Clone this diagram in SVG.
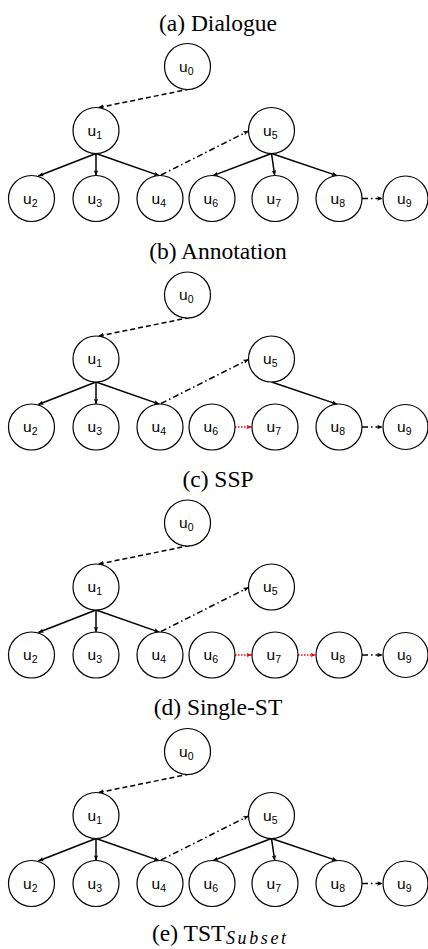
<svg xmlns="http://www.w3.org/2000/svg" width="428" height="949" viewBox="0 0 428 949">
<style>
.node circle{fill:#fff;stroke:#000;stroke-width:1.2}
.lbl{font-family:"Liberation Sans",Arial,Helvetica,sans-serif;font-size:15.5px;fill:#000}
.sub{font-size:10.5px}
.title{font-family:"Liberation Serif","Times New Roman",serif;font-size:23.5px;fill:#000;text-anchor:middle}
.e{fill:none;stroke:#000;stroke-width:1.5;marker-end:url(#ah)}
.dash{stroke-dasharray:5 3}
.dd{stroke-dasharray:6 3 1.5 3}
.red{stroke:#ff0000;stroke-dasharray:1.5 1.5;marker-end:url(#ahr)}
</style>
<defs>
<marker id="ah" viewBox="0 0 8 8" markerWidth="6" markerHeight="6" refX="7" refY="4" orient="auto" markerUnits="userSpaceOnUse">
<path d="M0,1 L7,4 L0,7 L1.5,4 z" fill="#000"/>
</marker>
<marker id="ahr" viewBox="0 0 8 8" markerWidth="6" markerHeight="6" refX="7" refY="4" orient="auto" markerUnits="userSpaceOnUse">
<path d="M0,1 L7,4 L0,7 L1.5,4 z" fill="#ff0000"/>
</marker>
</defs>
<rect width="428" height="949" fill="#fff"/>

<text class="title" x="218" y="31">(a) Dialogue</text>
<text class="title" x="218" y="259">(b) Annotation</text>
<text class="title" x="218" y="487">(c) SSP</text>
<text class="title" x="218" y="715">(d) Single-ST</text>
<text font-family="'Liberation Serif','Times New Roman',serif" font-size="23.5" x="152" y="941">(e) TST</text>
<text font-family="'Liberation Serif','Times New Roman',serif" font-style="italic" font-size="18" x="226" y="944" textLength="60" lengthAdjust="spacing">Subset</text>

<!-- Panel a -->
<g id="panel-a">
<g id="connectors-a">
<path class="e dash" d="M190,89 L98.5,107.6"/>
<path class="e" d="M96,153.5 L38.3,176"/>
<path class="e" d="M96,153.5 L96,175.5"/>
<path class="e" d="M96,153.5 L159.3,175.6"/>
<path class="e dd" d="M161,175 L248.5,131"/>
<path class="e" d="M271.5,153.5 L213,175.6"/>
<path class="e" d="M271.5,153.5 L274.7,175.5"/>
<path class="e" d="M271.5,153.5 L337,175.6"/>
<path class="e dd" d="M362,198.5 L382.5,198.5"/>
</g>
<g id="a-u0" class="node"><circle cx="187.5" cy="66.5" r="23"/><text class="lbl" x="179" y="71.5">u<tspan class="sub" dy="3">0</tspan></text></g>
<g id="a-u1" class="node"><circle cx="96" cy="130.5" r="23"/><text class="lbl" x="87.5" y="135.5">u<tspan class="sub" dy="3">1</tspan></text></g>
<g id="a-u5" class="node"><circle cx="271.5" cy="130.5" r="23"/><text class="lbl" x="263" y="135.5">u<tspan class="sub" dy="3">5</tspan></text></g>
<g id="a-u2" class="node"><circle cx="31.5" cy="198.5" r="23"/><text class="lbl" x="23" y="203.5">u<tspan class="sub" dy="3">2</tspan></text></g>
<g id="a-u3" class="node"><circle cx="96" cy="198.5" r="23"/><text class="lbl" x="87.5" y="203.5">u<tspan class="sub" dy="3">3</tspan></text></g>
<g id="a-u4" class="node"><circle cx="160" cy="198.5" r="23"/><text class="lbl" x="151.5" y="203.5">u<tspan class="sub" dy="3">4</tspan></text></g>
<g id="a-u6" class="node"><circle cx="212" cy="198.5" r="23"/><text class="lbl" x="203.5" y="203.5">u<tspan class="sub" dy="3">6</tspan></text></g>
<g id="a-u7" class="node"><circle cx="275" cy="198.5" r="23"/><text class="lbl" x="266.5" y="203.5">u<tspan class="sub" dy="3">7</tspan></text></g>
<g id="a-u8" class="node"><circle cx="339" cy="198.5" r="23"/><text class="lbl" x="330.5" y="203.5">u<tspan class="sub" dy="3">8</tspan></text></g>
<g id="a-u9" class="node"><circle cx="405.5" cy="198.5" r="22.5"/><text class="lbl" x="397" y="203.5">u<tspan class="sub" dy="3">9</tspan></text></g>
</g>

<!-- Panel b -->
<g id="panel-b" transform="translate(0,228.5)">
<g id="connectors-b">
<path class="e dash" d="M190,89 L98.5,107.6"/>
<path class="e" d="M96,153.5 L38.3,176"/>
<path class="e" d="M96,153.5 L96,175.5"/>
<path class="e" d="M96,153.5 L159.3,175.6"/>
<path class="e dd" d="M161,175 L248.5,131"/>
<path class="e" d="M271.5,153.5 L337,175.6"/>
<path class="e red" d="M235,198.5 L251.8,198.5"/>
<path class="e dd" d="M362,198.5 L382.5,198.5"/>
</g>
<g id="b-u0" class="node"><circle cx="187.5" cy="66.5" r="23"/><text class="lbl" x="179" y="71.5">u<tspan class="sub" dy="3">0</tspan></text></g>
<g id="b-u1" class="node"><circle cx="96" cy="130.5" r="23"/><text class="lbl" x="87.5" y="135.5">u<tspan class="sub" dy="3">1</tspan></text></g>
<g id="b-u5" class="node"><circle cx="271.5" cy="130.5" r="23"/><text class="lbl" x="263" y="135.5">u<tspan class="sub" dy="3">5</tspan></text></g>
<g id="b-u2" class="node"><circle cx="31.5" cy="198.5" r="23"/><text class="lbl" x="23" y="203.5">u<tspan class="sub" dy="3">2</tspan></text></g>
<g id="b-u3" class="node"><circle cx="96" cy="198.5" r="23"/><text class="lbl" x="87.5" y="203.5">u<tspan class="sub" dy="3">3</tspan></text></g>
<g id="b-u4" class="node"><circle cx="160" cy="198.5" r="23"/><text class="lbl" x="151.5" y="203.5">u<tspan class="sub" dy="3">4</tspan></text></g>
<g id="b-u6" class="node"><circle cx="212" cy="198.5" r="23"/><text class="lbl" x="203.5" y="203.5">u<tspan class="sub" dy="3">6</tspan></text></g>
<g id="b-u7" class="node"><circle cx="275" cy="198.5" r="23"/><text class="lbl" x="266.5" y="203.5">u<tspan class="sub" dy="3">7</tspan></text></g>
<g id="b-u8" class="node"><circle cx="339" cy="198.5" r="23"/><text class="lbl" x="330.5" y="203.5">u<tspan class="sub" dy="3">8</tspan></text></g>
<g id="b-u9" class="node"><circle cx="405.5" cy="198.5" r="22.5"/><text class="lbl" x="397" y="203.5">u<tspan class="sub" dy="3">9</tspan></text></g>
</g>

<!-- Panel c -->
<g id="panel-c" transform="translate(0,456.5)">
<g id="connectors-c">
<path class="e dash" d="M190,89 L98.5,107.6"/>
<path class="e" d="M96,153.5 L38.3,176"/>
<path class="e" d="M96,153.5 L96,175.5"/>
<path class="e" d="M96,153.5 L159.3,175.6"/>
<path class="e dd" d="M161,175 L248.5,131"/>
<path class="e red" d="M235,198.5 L251.8,198.5"/>
<path class="e red" d="M298,198.5 L315.8,198.5"/>
<path class="e dd" d="M362,198.5 L382.5,198.5"/>
</g>
<g id="c-u0" class="node"><circle cx="187.5" cy="66.5" r="23"/><text class="lbl" x="179" y="71.5">u<tspan class="sub" dy="3">0</tspan></text></g>
<g id="c-u1" class="node"><circle cx="96" cy="130.5" r="23"/><text class="lbl" x="87.5" y="135.5">u<tspan class="sub" dy="3">1</tspan></text></g>
<g id="c-u5" class="node"><circle cx="271.5" cy="130.5" r="23"/><text class="lbl" x="263" y="135.5">u<tspan class="sub" dy="3">5</tspan></text></g>
<g id="c-u2" class="node"><circle cx="31.5" cy="198.5" r="23"/><text class="lbl" x="23" y="203.5">u<tspan class="sub" dy="3">2</tspan></text></g>
<g id="c-u3" class="node"><circle cx="96" cy="198.5" r="23"/><text class="lbl" x="87.5" y="203.5">u<tspan class="sub" dy="3">3</tspan></text></g>
<g id="c-u4" class="node"><circle cx="160" cy="198.5" r="23"/><text class="lbl" x="151.5" y="203.5">u<tspan class="sub" dy="3">4</tspan></text></g>
<g id="c-u6" class="node"><circle cx="212" cy="198.5" r="23"/><text class="lbl" x="203.5" y="203.5">u<tspan class="sub" dy="3">6</tspan></text></g>
<g id="c-u7" class="node"><circle cx="275" cy="198.5" r="23"/><text class="lbl" x="266.5" y="203.5">u<tspan class="sub" dy="3">7</tspan></text></g>
<g id="c-u8" class="node"><circle cx="339" cy="198.5" r="23"/><text class="lbl" x="330.5" y="203.5">u<tspan class="sub" dy="3">8</tspan></text></g>
<g id="c-u9" class="node"><circle cx="405.5" cy="198.5" r="22.5"/><text class="lbl" x="397" y="203.5">u<tspan class="sub" dy="3">9</tspan></text></g>
</g>

<!-- Panel d -->
<g id="panel-d" transform="translate(0,685)">
<g id="connectors-d">
<path class="e dash" d="M190,89 L98.5,107.6"/>
<path class="e" d="M96,153.5 L38.3,176"/>
<path class="e" d="M96,153.5 L96,175.5"/>
<path class="e" d="M96,153.5 L159.3,175.6"/>
<path class="e dd" d="M161,175 L248.5,131"/>
<path class="e" d="M271.5,153.5 L213,175.6"/>
<path class="e" d="M271.5,153.5 L274.7,175.5"/>
<path class="e" d="M271.5,153.5 L337,175.6"/>
<path class="e dd" d="M362,198.5 L382.5,198.5"/>
</g>
<g id="d-u0" class="node"><circle cx="187.5" cy="66.5" r="23"/><text class="lbl" x="179" y="71.5">u<tspan class="sub" dy="3">0</tspan></text></g>
<g id="d-u1" class="node"><circle cx="96" cy="130.5" r="23"/><text class="lbl" x="87.5" y="135.5">u<tspan class="sub" dy="3">1</tspan></text></g>
<g id="d-u5" class="node"><circle cx="271.5" cy="130.5" r="23"/><text class="lbl" x="263" y="135.5">u<tspan class="sub" dy="3">5</tspan></text></g>
<g id="d-u2" class="node"><circle cx="31.5" cy="198.5" r="23"/><text class="lbl" x="23" y="203.5">u<tspan class="sub" dy="3">2</tspan></text></g>
<g id="d-u3" class="node"><circle cx="96" cy="198.5" r="23"/><text class="lbl" x="87.5" y="203.5">u<tspan class="sub" dy="3">3</tspan></text></g>
<g id="d-u4" class="node"><circle cx="160" cy="198.5" r="23"/><text class="lbl" x="151.5" y="203.5">u<tspan class="sub" dy="3">4</tspan></text></g>
<g id="d-u6" class="node"><circle cx="212" cy="198.5" r="23"/><text class="lbl" x="203.5" y="203.5">u<tspan class="sub" dy="3">6</tspan></text></g>
<g id="d-u7" class="node"><circle cx="275" cy="198.5" r="23"/><text class="lbl" x="266.5" y="203.5">u<tspan class="sub" dy="3">7</tspan></text></g>
<g id="d-u8" class="node"><circle cx="339" cy="198.5" r="23"/><text class="lbl" x="330.5" y="203.5">u<tspan class="sub" dy="3">8</tspan></text></g>
<g id="d-u9" class="node"><circle cx="405.5" cy="198.5" r="22.5"/><text class="lbl" x="397" y="203.5">u<tspan class="sub" dy="3">9</tspan></text></g>
</g>
</svg>
